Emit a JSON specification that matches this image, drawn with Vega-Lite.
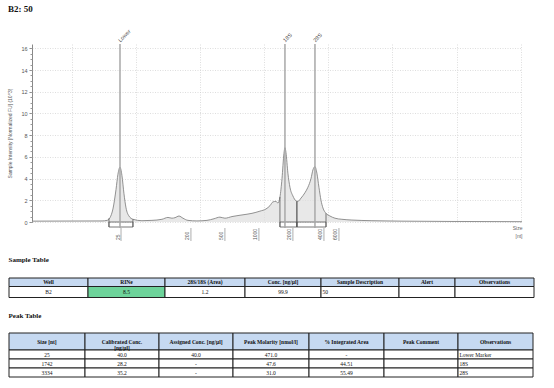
{
  "$schema": "https://vega.github.io/schema/vega-lite/v6.json",
  "padding": {"left": 7, "top": 4, "right": 5, "bottom": 5},
  "title": {"text": "B2: 50", "anchor": "start", "font": "Liberation Serif", "fontSize": 9, "fontWeight": "bold", "color": "#111", "offset": 15},
  "columns": 1,
  "align": "none",
  "spacing": 13,
  "config": {
    "view": {"stroke": null},
    "font": "Liberation Sans",
    "axis": {"labelFont": "Liberation Sans", "titleFont": "Liberation Sans"}
  },
  "concat": [
    {
      "width": 490,
      "height": 178,
      "resolve": {"axis": {"y": "independent"}},
      "layer": [
        {
          "data": {"values": [
            {"t":16.9,"v":0.08},{"t":22.36,"v":0.1},{"t":22.75,"v":0.15},{"t":22.98,"v":0.4},{"t":23.21,"v":1.2},{"t":23.45,"v":3.0},{"t":23.6,"v":4.4},{"t":23.76,"v":5.05},{"t":23.91,"v":4.3},{"t":24.07,"v":2.6},{"t":24.23,"v":1.3},{"t":24.46,"v":0.55},{"t":24.77,"v":0.25},{"t":25.47,"v":0.12},{"t":26.25,"v":0.15},{"t":27.03,"v":0.25},{"t":27.5,"v":0.42},{"t":27.81,"v":0.35},{"t":28.05,"v":0.4},{"t":28.36,"v":0.55},{"t":28.67,"v":0.35},{"t":29.06,"v":0.15},{"t":29.76,"v":0.1},{"t":30.54,"v":0.15},{"t":31.09,"v":0.3},{"t":31.55,"v":0.45},{"t":31.94,"v":0.35},{"t":32.49,"v":0.5},{"t":33.27,"v":0.65},{"t":34.05,"v":0.8},{"t":34.67,"v":1.0},{"t":35.14,"v":1.2},{"t":35.45,"v":1.5},{"t":35.68,"v":1.85},{"t":35.92,"v":1.9},{"t":36.07,"v":1.75},{"t":36.23,"v":2.3},{"t":36.39,"v":4.0},{"t":36.54,"v":6.3},{"t":36.62,"v":6.85},{"t":36.7,"v":6.4},{"t":36.85,"v":4.5},{"t":37.01,"v":3.2},{"t":37.24,"v":2.4},{"t":37.48,"v":1.95},{"t":37.63,"v":1.9},{"t":37.87,"v":2.2},{"t":38.18,"v":2.7},{"t":38.41,"v":3.2},{"t":38.65,"v":4.0},{"t":38.8,"v":4.8},{"t":38.96,"v":5.1},{"t":39.11,"v":4.5},{"t":39.27,"v":3.2},{"t":39.43,"v":2.0},{"t":39.58,"v":1.3},{"t":39.82,"v":0.8},{"t":40.13,"v":0.55},{"t":40.52,"v":0.35},{"t":41.06,"v":0.25},{"t":41.84,"v":0.18},{"t":43.4,"v":0.12},{"t":45.74,"v":0.08},{"t":49.64,"v":0.05},{"t":55.1,"v":0.03}
          ]},
          "mark": {"type": "area", "interpolate": "monotone", "color": "#dedede", "line": {"color": "#777777", "strokeWidth": 0.8}},
          "encoding": {
            "x": {"field": "t", "type": "quantitative", "scale": {"domain": [16.9, 55.1], "nice": false, "zero": false},
              "axis": {"values": [20,25,30,35,40,45,50,55], "grid": true, "gridColor": "#d0d0d0", "gridDash": [1, 1.5], "gridWidth": 0.7, "labels": false, "ticks": false, "domain": false,
                "title": ["Size", "[nt]"], "titleFontSize": 5, "titleFontWeight": "normal", "titleColor": "#666", "titleAlign": "right", "titleAnchor": "end", "titleX": 490, "titleY": 3, "titleBaseline": "top", "titleLineHeight": 8}},
            "y": {"field": "v", "type": "quantitative", "scale": {"domain": [0, 16.4], "nice": false, "zero": true},
              "axis": {"values": [0,2,4,6,8,10,12,14,16], "grid": true, "gridColor": "#d0d0d0", "gridDash": [1, 1.5], "gridWidth": 0.7, "labelFontSize": 5.5, "labelColor": "#555", "labelPadding": 2, "tickColor": "#888", "tickSize": 3, "domainColor": "#888",
                "title": "Sample Intensity [Normalized FU] (10^3)", "titleFontSize": 5, "titleFontWeight": "normal", "titleColor": "#555", "titlePadding": 8}}
          }
        },
        {
          "data": {"name": "regions", "values": [
            {"peak": "Lower", "start": 22.9, "end": 24.77, "vs": 0.35, "ve": 0.25},
            {"peak": "18S", "start": 36.23, "end": 37.55, "vs": 2.3, "ve": 1.9},
            {"peak": "28S", "start": 37.55, "end": 39.82, "vs": 1.9, "ve": 0.8}
          ]},
          "mark": {"type": "rule", "color": "#555", "strokeWidth": 0.8, "y2Offset": 5},
          "encoding": {
            "x": {"field": "start", "type": "quantitative"},
            "y": {"field": "vs", "type": "quantitative", "axis": null},
            "y2": {"datum": 0}
          }
        },
        {
          "data": {"name": "regions"},
          "mark": {"type": "rule", "color": "#555", "strokeWidth": 0.8, "y2Offset": 5},
          "encoding": {
            "x": {"field": "end", "type": "quantitative"},
            "y": {"field": "ve", "type": "quantitative", "axis": null},
            "y2": {"datum": 0}
          }
        },
        {
          "data": {"name": "regions"},
          "mark": {"type": "rect", "fill": "#ffffff", "fillOpacity": 0, "stroke": "#555", "strokeWidth": 0.8, "y2Offset": 5},
          "encoding": {
            "x": {"field": "start", "type": "quantitative"},
            "x2": {"field": "end"},
            "y": {"datum": 0, "type": "quantitative", "axis": null},
            "y2": {"datum": 0}
          }
        },
        {
          "data": {"name": "peaks", "values": [
            {"peak": "Lower", "t": 23.76},
            {"peak": "18S", "t": 36.62},
            {"peak": "28S", "t": 38.96}
          ]},
          "mark": {"type": "rule", "color": "#a8a8a8", "strokeWidth": 1.5, "y2Offset": 6},
          "encoding": {
            "x": {"field": "t", "type": "quantitative"},
            "y": {"datum": 16.4, "type": "quantitative", "axis": {"orient": "left", "tickCount": 33, "labels": false, "grid": false, "domain": false, "ticks": true, "tickSize": 2, "tickColor": "#999", "title": null}},
            "y2": {"datum": 0}
          }
        },
        {
          "data": {"name": "peaks"},
          "mark": {"type": "text", "angle": 315, "align": "left", "baseline": "middle", "fontSize": 5.5, "color": "#444", "yOffset": -3, "xOffset": -1},
          "encoding": {
            "x": {"field": "t", "type": "quantitative"},
            "y": {"datum": 16.4, "type": "quantitative", "axis": null},
            "text": {"field": "peak"}
          }
        },
        {
          "data": {"name": "ladder", "values": [
            {"size": "25", "t": 23.84},
            {"size": "200", "t": 29.29},
            {"size": "500", "t": 31.94},
            {"size": "1000", "t": 34.59},
            {"size": "2000", "t": 37.24},
            {"size": "4000", "t": 39.66},
            {"size": "6000", "t": 40.83}
          ]},
          "mark": {"type": "rule", "color": "#999", "strokeWidth": 0.8, "yOffset": 6, "y2Offset": 19},
          "encoding": {
            "x": {"field": "t", "type": "quantitative"},
            "y": {"datum": 0, "type": "quantitative", "axis": null},
            "y2": {"datum": 0}
          }
        },
        {
          "data": {"name": "ladder"},
          "mark": {"type": "text", "angle": 270, "align": "left", "baseline": "bottom", "fontSize": 5, "color": "#555", "yOffset": 18, "xOffset": -0.5},
          "encoding": {
            "x": {"field": "t", "type": "quantitative"},
            "y": {"datum": 0, "type": "quantitative", "axis": null},
            "text": {"field": "size"}
          }
        }
      ]
    },
    {
      "width": 490,
      "height": 19.5,
      "title": {"text": "Sample Table", "anchor": "start", "font": "Liberation Serif", "fontSize": 7, "fontWeight": "bold", "color": "#111", "offset": 15},
      "data": {"values": [
        {"ri": 0, "ci": 0, "t": "Well"},
        {"ri": 0, "ci": 1, "t": "RINe"},
        {"ri": 0, "ci": 2, "t": "28S/18S (Area)"},
        {"ri": 0, "ci": 3, "t": "Conc. [ng/µl]"},
        {"ri": 0, "ci": 4, "t": "Sample Description"},
        {"ri": 0, "ci": 5, "t": "Alert"},
        {"ri": 0, "ci": 6, "t": "Observations"},
        {"ri": 1, "ci": 0, "t": "B2"},
        {"ri": 1, "ci": 1, "t": "8.5"},
        {"ri": 1, "ci": 2, "t": "1.2"},
        {"ri": 1, "ci": 3, "t": "99.9"},
        {"ri": 1, "ci": 4, "t": "50"},
        {"ri": 1, "ci": 5, "t": ""},
        {"ri": 1, "ci": 6, "t": ""}
      ]},
      "transform": [
        {"calculate": "datum.ci + 1", "as": "ci2"},
        {"calculate": "datum.ri + 1", "as": "ri2"},
        {"calculate": "datum.ci + 0.5", "as": "cx"},
        {"calculate": "datum.ri + 0.5", "as": "cy"}
      ],
      "layer": [
        {
          "mark": {"type": "rect", "stroke": "#222", "strokeWidth": 1},
          "encoding": {
            "x": {"field": "ci", "type": "quantitative", "scale": {"domain": [0,1,2,3,4,5,6,7], "range": [-23,56,133,213,289,367,423,502], "nice": false, "zero": false}, "axis": null},
            "x2": {"field": "ci2"},
            "y": {"field": "ri", "type": "quantitative", "scale": {"domain": [0,1,2], "range": [0,8.5,19.5], "nice": false, "zero": false}, "axis": null},
            "y2": {"field": "ri2"},
            "fill": {"condition": [{"test": "datum.ri === 0", "value": "#c6d9f1"}, {"test": "datum.ci === 1", "value": "#6dd39a"}], "value": "#ffffff"}
          }
        },
        {
          "transform": [{"filter": "datum.ri === 0"}],
          "mark": {"type": "text", "font": "Liberation Serif", "fontWeight": "bold", "fontSize": 5.5, "color": "#111", "align": "center", "baseline": "middle"},
          "encoding": {
            "x": {"field": "cx", "type": "quantitative"},
            "y": {"field": "cy", "type": "quantitative"},
            "text": {"field": "t"}
          }
        },
        {
          "transform": [{"filter": "datum.ri > 0 && datum.ci !== 4"}],
          "mark": {"type": "text", "font": "Liberation Serif", "fontSize": 5.5, "color": "#111", "align": "center", "baseline": "middle"},
          "encoding": {
            "x": {"field": "cx", "type": "quantitative"},
            "y": {"field": "cy", "type": "quantitative"},
            "text": {"field": "t"}
          }
        },
        {
          "transform": [{"filter": "datum.ri > 0 && datum.ci === 4"}],
          "mark": {"type": "text", "font": "Liberation Serif", "fontSize": 5.5, "color": "#111", "align": "left", "baseline": "middle", "xOffset": 1.5},
          "encoding": {
            "x": {"field": "ci", "type": "quantitative"},
            "y": {"field": "cy", "type": "quantitative"},
            "text": {"field": "t"}
          }
        }
      ]
    },
    {
      "width": 490,
      "height": 44,
      "title": {"text": "Peak Table", "anchor": "start", "font": "Liberation Serif", "fontSize": 7, "fontWeight": "bold", "color": "#111", "offset": 14},
      "data": {"values": [
        {"ri": 0, "ci": 0, "t": "Size [nt]"},
        {"ri": 0, "ci": 1, "t": "Calibrated Conc.\n[ng/µl]"},
        {"ri": 0, "ci": 2, "t": "Assigned Conc. [ng/µl]"},
        {"ri": 0, "ci": 3, "t": "Peak Molarity [nmol/l]"},
        {"ri": 0, "ci": 4, "t": "% Integrated Area"},
        {"ri": 0, "ci": 5, "t": "Peak Comment"},
        {"ri": 0, "ci": 6, "t": "Observations"},
        {"ri": 1, "ci": 0, "t": "25"},
        {"ri": 1, "ci": 1, "t": "40.0"},
        {"ri": 1, "ci": 2, "t": "40.0"},
        {"ri": 1, "ci": 3, "t": "471.0"},
        {"ri": 1, "ci": 4, "t": "-"},
        {"ri": 1, "ci": 5, "t": ""},
        {"ri": 1, "ci": 6, "t": "Lower Marker"},
        {"ri": 2, "ci": 0, "t": "1742"},
        {"ri": 2, "ci": 1, "t": "28.2"},
        {"ri": 2, "ci": 2, "t": "-"},
        {"ri": 2, "ci": 3, "t": "47.6"},
        {"ri": 2, "ci": 4, "t": "44.51"},
        {"ri": 2, "ci": 5, "t": ""},
        {"ri": 2, "ci": 6, "t": "18S"},
        {"ri": 3, "ci": 0, "t": "3334"},
        {"ri": 3, "ci": 1, "t": "35.2"},
        {"ri": 3, "ci": 2, "t": "-"},
        {"ri": 3, "ci": 3, "t": "31.0"},
        {"ri": 3, "ci": 4, "t": "55.49"},
        {"ri": 3, "ci": 5, "t": ""},
        {"ri": 3, "ci": 6, "t": "28S"}
      ]},
      "transform": [
        {"calculate": "datum.ci + 1", "as": "ci2"},
        {"calculate": "datum.ri + 1", "as": "ri2"},
        {"calculate": "datum.ci + 0.5", "as": "cx"},
        {"calculate": "datum.ri + 0.5", "as": "cy"}
      ],
      "layer": [
        {
          "mark": {"type": "rect", "stroke": "#222", "strokeWidth": 1},
          "encoding": {
            "x": {"field": "ci", "type": "quantitative", "scale": {"domain": [0,1,2,3,4,5,6,7], "range": [-23,53,127,201,277,352,426,501], "nice": false, "zero": false}, "axis": null},
            "x2": {"field": "ci2"},
            "y": {"field": "ri", "type": "quantitative", "scale": {"domain": [0,1,2,3,4], "range": [0,17,26,35,44], "nice": false, "zero": false}, "axis": null},
            "y2": {"field": "ri2"},
            "fill": {"condition": [{"test": "datum.ri === 0", "value": "#c6d9f1"}], "value": "#ffffff"}
          }
        },
        {
          "transform": [{"filter": "datum.ri === 0"}],
          "mark": {"type": "text", "font": "Liberation Serif", "fontWeight": "bold", "fontSize": 5.5, "color": "#111", "align": "center", "baseline": "middle", "lineBreak": "\n", "lineHeight": 6.5},
          "encoding": {
            "x": {"field": "cx", "type": "quantitative"},
            "y": {"field": "cy", "type": "quantitative"},
            "text": {"field": "t"}
          }
        },
        {
          "transform": [{"filter": "datum.ri > 0 && datum.ci !== 6"}],
          "mark": {"type": "text", "font": "Liberation Serif", "fontSize": 5.5, "color": "#111", "align": "center", "baseline": "middle"},
          "encoding": {
            "x": {"field": "cx", "type": "quantitative"},
            "y": {"field": "cy", "type": "quantitative"},
            "text": {"field": "t"}
          }
        },
        {
          "transform": [{"filter": "datum.ri > 0 && datum.ci === 6"}],
          "mark": {"type": "text", "font": "Liberation Serif", "fontSize": 5.5, "color": "#111", "align": "left", "baseline": "middle", "xOffset": 1.5},
          "encoding": {
            "x": {"field": "ci", "type": "quantitative"},
            "y": {"field": "cy", "type": "quantitative"},
            "text": {"field": "t"}
          }
        }
      ]
    }
  ]
}
